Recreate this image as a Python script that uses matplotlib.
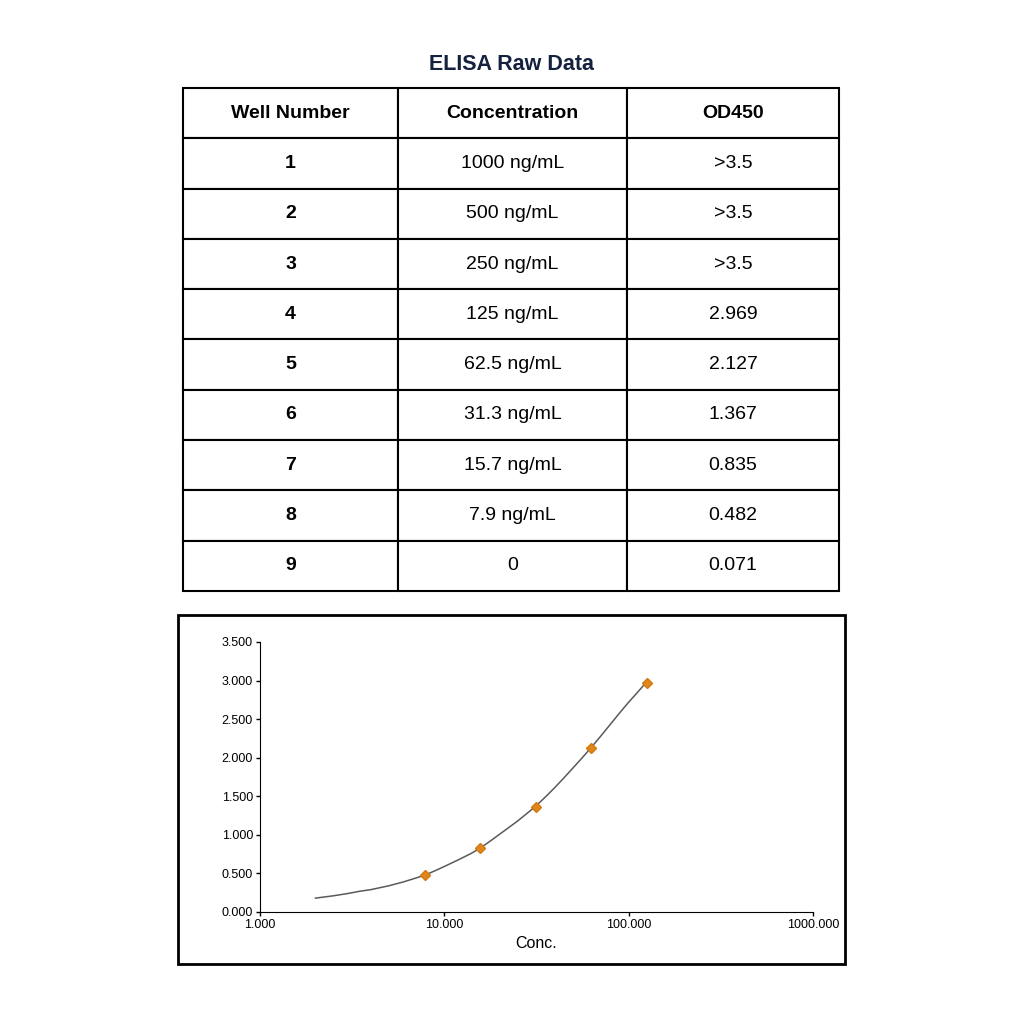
import numpy as np
import matplotlib
matplotlib.use("Agg")
from matplotlib import pyplot as plt
from matplotlib.patches import Rectangle
from matplotlib.ticker import FormatStrFormatter, FixedLocator, NullLocator

plt.rcParams['font.family'] = ['Liberation Sans', 'DejaVu Sans']

# table data
col_labels = ['Well Number', 'Concentration', 'OD450']
wells = ['1', '2', '3', '4', '5', '6', '7', '8', '9']
concs = ['1000 ng/mL', '500 ng/mL', '250 ng/mL', '125 ng/mL', '62.5 ng/mL',
         '31.3 ng/mL', '15.7 ng/mL', '7.9 ng/mL', '0']
ods = ['>3.5', '>3.5', '>3.5', '2.969', '2.127', '1.367', '0.835', '0.482', '0.071']

# standard points in the plot
pt_conc = [7.9, 15.7, 31.3, 62.5, 125]
pt_od = [0.482, 0.835, 1.367, 2.127, 2.969]

# fitted curve
curve_conc = [2, 2.5, 3, 3.5, 4, 5, 6, 7, 7.9, 9, 10, 12, 14, 15.7, 18, 20, 25, 31.3,
              36, 40, 45, 50, 56, 62.5, 70, 80, 90, 100, 110, 125]
curve_od = [0.18, 0.21, 0.24, 0.27, 0.29, 0.34, 0.39, 0.44, 0.48, 0.54, 0.59, 0.68, 0.76,
            0.83, 0.93, 1.01, 1.18, 1.37, 1.51, 1.62, 1.75, 1.87, 2.00, 2.13, 2.27, 2.44,
            2.59, 2.72, 2.83, 2.98]

fig = plt.figure(figsize=(10.24, 10.24), dpi=100)

fig.text(0.4995, 1 - 64 / 1024, 'ELISA Raw Data', ha='center', va='center',
         fontsize=15.5, fontweight='bold', color='#15223f')

# table
tax = fig.add_axes([183 / 1024, 1 - 591 / 1024, 656 / 1024, 503 / 1024])
tax.axis('off')
cells = [[w, c, o] for w, c, o in zip(wells, concs, ods)]
tbl = tax.table(cellText=cells, colLabels=col_labels, cellLoc='center',
                bbox=[0, 0, 1, 1], colWidths=[215, 229, 212])
tbl.auto_set_font_size(False)
for (r, c), cell in tbl.get_celld().items():
    cell.set_linewidth(1.5)
    cell.set_edgecolor('black')
    txt = cell.get_text()
    txt.set_fontsize(14)
    if r == 0 or c == 0:
        txt.set_fontweight('bold')

# frame around the chart
fig.patches.append(Rectangle((178 / 1024, 1 - 964 / 1024), 667 / 1024, 349 / 1024,
                             transform=fig.transFigure, fill=False,
                             edgecolor='black', linewidth=2))

ax = fig.add_axes([260 / 1024, 1 - 912 / 1024, 553 / 1024, 270 / 1024])
ax.plot(curve_conc, curve_od, color='#5a5a5a', linewidth=1.1)
ax.plot(pt_conc, pt_od, linestyle='none', marker='D', markersize=5,
        color='#e0861c', markeredgecolor='#d07a10')
ax.set_xscale('log')
ax.set_xlim(1, 1000)
ax.set_ylim(0, 3.5)
ax.xaxis.set_major_locator(FixedLocator([1, 10, 100, 1000]))
ax.xaxis.set_minor_locator(NullLocator())
ax.xaxis.set_major_formatter(FormatStrFormatter('%.3f'))
ax.set_yticks(np.arange(0, 3.51, 0.5))
ax.yaxis.set_major_formatter(FormatStrFormatter('%.3f'))
ax.tick_params(labelsize=9, length=3, width=1, pad=2)
ax.spines['top'].set_visible(False)
ax.spines['right'].set_visible(False)
ax.set_xlabel('Conc.', fontsize=11.5, labelpad=4)

fig.savefig('out.png', dpi=100, facecolor='white')
